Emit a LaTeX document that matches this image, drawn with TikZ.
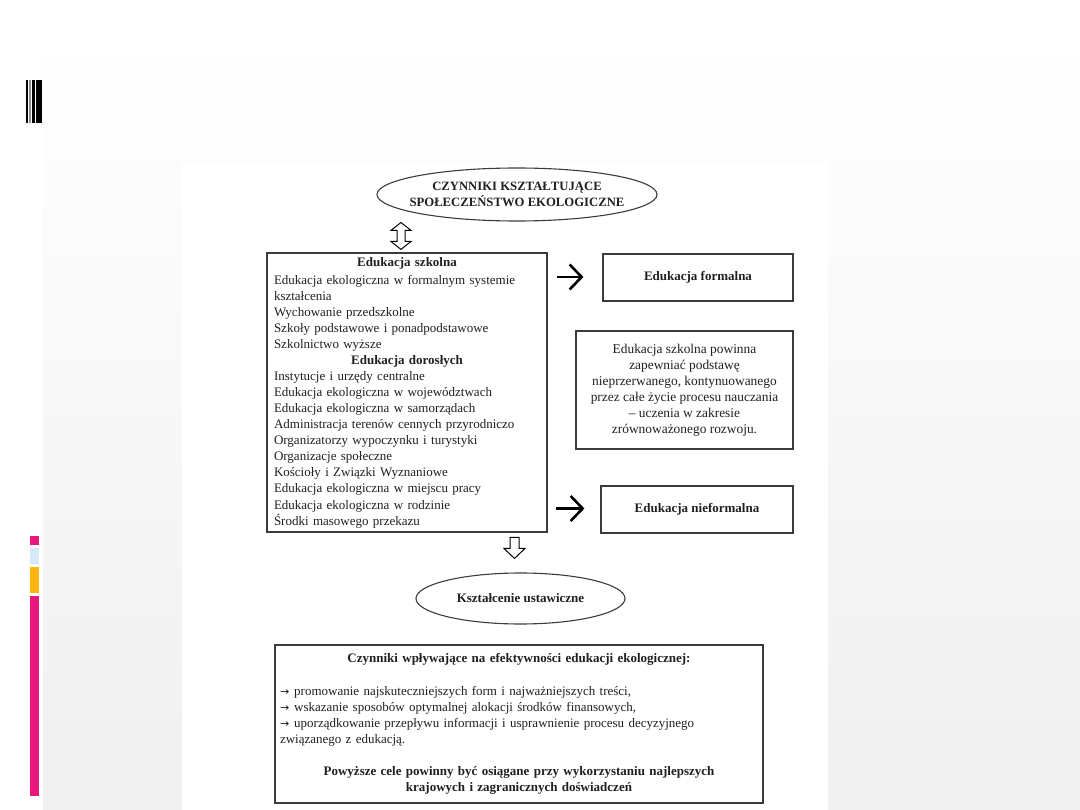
\documentclass[tikz,border=0pt]{standalone}
\usepackage{fontspec}
\setmainfont{Liberation Serif}
\newfontfamily\arrowfont{DejaVu Sans}
\usetikzlibrary{shapes.geometric,arrows.meta,calc}
\setlength{\parindent}{0pt}
\definecolor{txt}{HTML}{231F1F}
\definecolor{frame}{HTML}{3C3C3C}
\definecolor{pinkc}{HTML}{E8177B}
\definecolor{bluec}{HTML}{D6E9F8}
\definecolor{orangec}{HTML}{FFB612}
\newcommand{\bul}{{\arrowfont\fontsize{11}{10}\selectfont →}\hspace{5pt}}
\begin{document}
\begin{tikzpicture}[x=1pt,y=-1pt,
  every node/.style={text=txt},
  bodyfont/.style={font=\fontsize{13}{16.06}\selectfont},
  headfont/.style={font=\fontsize{13}{15}\selectfont\bfseries},
  boxed/.style={draw=frame,line width=1.1pt,rectangle,inner sep=0pt,bodyfont},
  oval/.style={draw=frame,line width=1.1pt,ellipse,inner sep=0pt,align=center},
  hollow/.style={draw=black,line width=1pt,fill=white,line join=miter},
  rarrow/.style={draw=black,line width=2.6pt,-{Straight Barb[length=12pt,width=25pt]}},
]
\useasboundingbox (0,0) rectangle (1080,810);
\fill[white] (0,0) rectangle (1080,810);
\shade[top color=white,bottom color=black!6] (43,30) rectangle (1080,810);
\fill[white] (182,162) rectangle (828,810);
% top-left bars
\fill[black] (26,80) rectangle (27.5,123);
\fill[black!45] (28.7,80) rectangle (30.5,123);
\fill[black] (32,80) rectangle (34.7,123);
\fill[black] (36,80) rectangle (42,123);
% left strips
\fill[pinkc] (30,536) rectangle (39,545);
\fill[bluec] (30,548) rectangle (39,564);
\fill[orangec] (30,567) rectangle (39,593);
\fill[pinkc] (30,596) rectangle (39,796);

\node[oval,minimum width=280pt,minimum height=53pt,inner xsep=-12pt,font=\fontsize{12.7}{16.5}\selectfont\bfseries] (top) at (517,194.5)
  {CZYNNIKI KSZTAŁTUJĄCE\\SPOŁECZEŃSTWO EKOLOGICZNE};

\node[boxed,minimum width=280pt,minimum height=279pt,text width=266pt,align=left] (big) at (407,392.5) {%
\vspace*{2pt}{\centering\bfseries Edukacja szkolna\par}
Edukacja ekologiczna w formalnym systemie\\
kształcenia\\
Wychowanie przedszkolne\\
Szkoły podstawowe i ponadpodstawowe\\
Szkolnictwo wyższe\par
{\centering\bfseries Edukacja dorosłych\par}
Instytucje i urzędy centralne\\
Edukacja ekologiczna w województwach\\
Edukacja ekologiczna w samorządach\\
Administracja terenów cennych przyrodniczo\\
Organizatorzy wypoczynku i turystyki\\
Organizacje społeczne\\
Kościoły i Związki Wyznaniowe\\
Edukacja ekologiczna w miejscu pracy\\
Edukacja ekologiczna w rodzinie\\
Środki masowego przekazu\par};

\node[boxed,minimum width=190pt,minimum height=47pt,headfont] (formal) at (698,277.5) {Edukacja formalna};

\node[boxed,minimum width=217pt,minimum height=118pt,align=center,font=\fontsize{13.4}{16.06}\selectfont] (note) at (684.5,390) {%
Edukacja szkolna powinna\\
zapewniać podstawę\\
nieprzerwanego, kontynuowanego\\
przez całe życie procesu nauczania\\
– uczenia w zakresie\\
zrównoważonego rozwoju.};

\node[boxed,minimum width=192pt,minimum height=47pt,headfont] (nonformal) at (697,509.5) {Edukacja nieformalna};

\node[oval,minimum width=209pt,minimum height=51pt,headfont] (lifelong) at (520.5,598.5) {Kształcenie ustawiczne};

\node[boxed,minimum width=488pt,minimum height=158pt,text width=478pt,align=left] (factors) at (519,724) {%
{\centering\bfseries Czynniki wpływające na efektywności edukacji ekologicznej:\par}
\mbox{}\par
\bul promowanie najskuteczniejszych form i najważniejszych treści,\\
\bul wskazanie sposobów optymalnej alokacji środków finansowych,\\
\bul uporządkowanie przepływu informacji i usprawnienie procesu decyzyjnego\\
związanego z edukacją.\par
\mbox{}\par
{\centering\bfseries Powyższe cele powinny być osiągane przy wykorzystaniu najlepszych\\
krajowych i zagranicznych doświadczeń\par}};

% hollow double arrow between top oval and big box
\coordinate (dA) at ($(big.north)+(-6,-16.5)$);
\begin{scope}[shift={(dA)}]
\draw[hollow] (0,-13.5) -- (10,-5.5) -- (4,-5.5) -- (4,5.5) -- (10,5.5) -- (0,13.5)
  -- (-10,5.5) -- (-4,5.5) -- (-4,-5.5) -- (-10,-5.5) -- cycle;
\end{scope}
% hollow down arrow between big box and lifelong oval
\coordinate (dB) at ($(lifelong.north)+(-6,-35)$);
\begin{scope}[shift={(dB)}]
\draw[hollow] (-4.5,0) -- (4.5,0) -- (4.5,11) -- (10.5,11) -- (0,21) -- (-10.5,11) -- (-4.5,11) -- cycle;
\end{scope}

% right arrows
\draw[rarrow] ($(big.east|-formal.west)+(9,-0.5)$) -- ($(formal.west)+(-19,-0.5)$);
\draw[rarrow] ($(big.east|-nonformal.west)+(8,-1)$) -- ($(nonformal.west)+(-16,-1)$);
\end{tikzpicture}
\end{document}
